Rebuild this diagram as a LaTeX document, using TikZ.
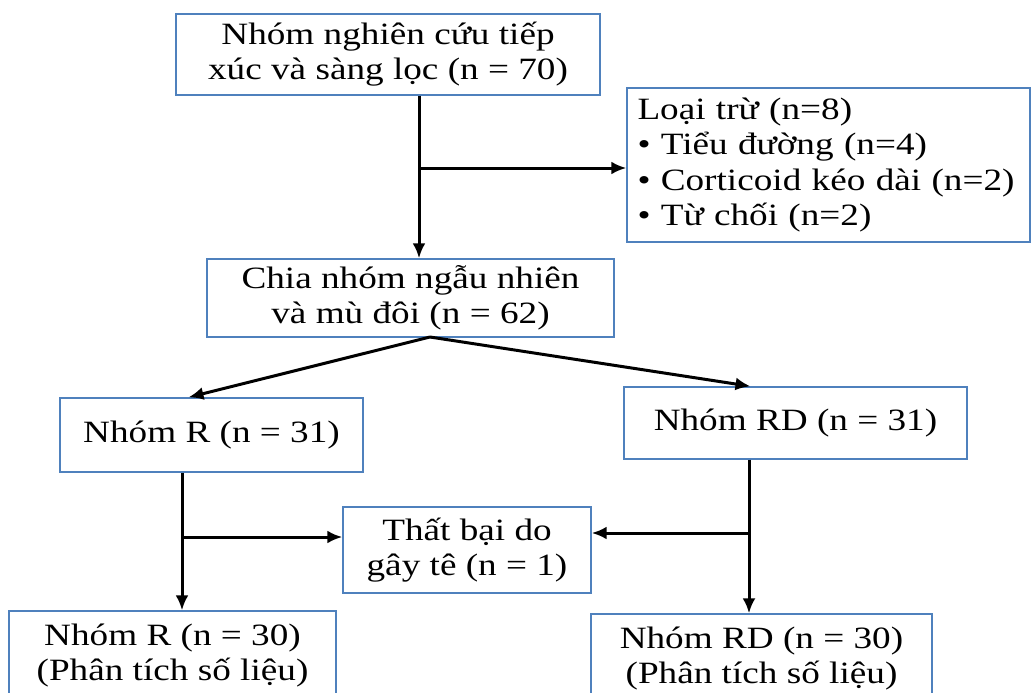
\documentclass[tikz,border=0pt]{standalone}
\usepackage{fontspec}
\setmainfont{Liberation Serif}[FakeStretch=1.2]
\usepackage{tikz}
\usetikzlibrary{arrows.meta,calc,positioning}
\definecolor{boxblue}{RGB}{79,129,189}

\begin{document}
\begin{tikzpicture}[
      x=1pt,y=-1pt,
      box/.style={rectangle,draw=boxblue,line width=1.4pt,inner sep=0pt,align=center,
        font=\fontsize{31}{35}\selectfont},
      flow/.style={->,line width=3pt},
      >={Latex[length=15pt,width=13pt]}
    ]
    \clip (0,0) rectangle (1031,693);
    \node[box,minimum width=424pt,minimum height=81pt] (study) at (388,54.5)
      {Nhóm nghiên cứu tiếp\\xúc và sàng lọc (n = 70)};
    \node[box,minimum width=403pt,minimum height=154pt,align=left,
      font=\fontsize{31}{35.5}\selectfont,text width=382pt] (excl) at (828.5,165)
      {Loại trừ (n=8)\\\textbullet\ Tiểu đường (n=4)\\\textbullet\ Corticoid kéo dài (n=2)\\\textbullet\ Từ chối (n=2)};
    \node[box,minimum width=407pt,minimum height=78pt] (rand) at (410.5,298)
      {Chia nhóm ngẫu nhiên\\và mù đôi (n = 62)};
    \node[box,minimum width=303pt,minimum height=74pt] (grpR) at (211.5,435)
      {Nhóm R (n = 31)};
    \node[box,minimum width=343pt,minimum height=72pt] (grpRD) at (795.5,423)
      {Nhóm RD (n = 31)};
    \node[box,minimum width=248pt,minimum height=86pt] (fail) at (467,550)
      {Thất bại do\\gây tê (n = 1)};
    \node[box,minimum width=327pt,minimum height=90pt] (finR) at (172.5,656)
      {Nhóm R (n = 30)\\(Phân tích số liệu)};
    \node[box,minimum width=341pt,minimum height=90pt] (finRD) at (761.5,659)
      {Nhóm RD (n = 30)\\(Phân tích số liệu)};

    % junctions of the side branches
    \coordinate (j1) at (419,168);
    \coordinate (j2) at (430,337);
    \coordinate (j3) at (182,537);
    \coordinate (j4) at (749,533);

    \draw[flow] (study.south -| j1) -- (rand.north -| j1);
    \draw[flow] (j1) -- (excl.west |- j1);
    \draw[flow] (j2) -- ([xshift=-23pt]grpR.north);
    \draw[flow] (j2) -- ([xshift=-45pt]grpRD.north);
    \draw[flow] (grpR.south -| j3) -- (finR.north -| j3);
    \draw[flow] (j3) -- (fail.west |- j3);
    \draw[flow] (grpRD.south -| j4) -- (finRD.north -| j4);
    \draw[flow] (j4) -- (fail.east |- j4);
  \end{tikzpicture}
\end{document}
